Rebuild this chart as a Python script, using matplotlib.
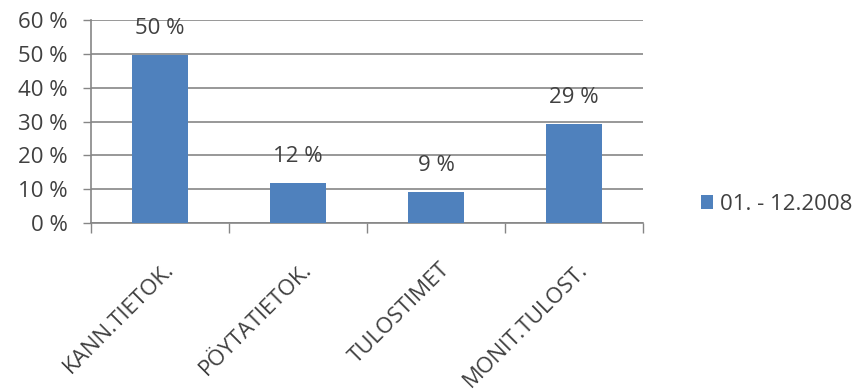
import numpy as np
import matplotlib.pyplot as plt
from matplotlib.transforms import ScaledTranslation

categories = ['KANN.TIETOK.', 'PÖYTATIETOK.', 'TULOSTIMET', 'MONIT.TULOST.']
shares = [49.6, 11.9, 9.3, 29.2]
valueLabels = ['50 %', '12 %', '9 %', '29 %']
yTicks = [0, 10, 20, 30, 40, 50, 60]
yTickLabels = ['0 %', '10 %', '20 %', '30 %', '40 %', '50 %', '60 %']
seriesName = '01. - 12.2008'

barColor = '#4F81BD'
textColor = '#404040'
gridColor = '#868686'
plt.rcParams['font.family'] = ['Open Sans', 'DejaVu Sans']
fontSize = 16

fig = plt.figure(figsize=(8.55, 3.9), dpi=100)
ax = fig.add_axes([91/855, 1 - 223/390, (643 - 91)/855, (223 - 20)/390])

x = np.arange(len(categories))
bars = ax.bar(x, shares, width=0.4, color=barColor, label=seriesName, zorder=3)

for xi, v, lab in zip(x, shares, valueLabels):
    ax.annotate(lab, (xi, v), xytext=(0, 19), textcoords='offset points',
                ha='center', va='center', fontsize=fontSize, color=textColor)

ax.set_xlim(-0.5, len(categories) - 0.5)
ax.set_ylim(0, 60)
ax.set_yticks(yTicks)
ax.set_yticklabels(yTickLabels, fontsize=fontSize, color=textColor)
ax.yaxis.grid(True, color=gridColor, linewidth=1.2, zorder=0)
ax.set_axisbelow(True)
ax.tick_params(axis='y', length=6, width=1, color=gridColor, pad=11)

# category boundaries as major ticks, labels on minor ticks
ax.set_xticks(np.arange(-0.5, len(categories), 1))
ax.set_xticklabels([])
ax.set_xticks(x, minor=True)
ax.set_xticklabels(categories, minor=True, rotation=45, ha='right', va='top',
                   rotation_mode='anchor', fontsize=fontSize, color=textColor)
ax.tick_params(axis='x', which='major', length=7, width=1, color=gridColor)
ax.tick_params(axis='x', which='minor', length=0, pad=0)
for lbl in ax.get_xticklabels(minor=True):
    lbl.set_transform(lbl.get_transform() + ScaledTranslation(0.03, -0.36, fig.dpi_scale_trans))

for side in ['top', 'right']:
    ax.spines[side].set_visible(False)
for side in ['left', 'bottom']:
    ax.spines[side].set_color(gridColor)
    ax.spines[side].set_linewidth(1.2)

fig.legend(handles=[bars], labels=[seriesName], loc='center left',
           bbox_to_anchor=(701/855, 1 - 204/390), frameon=False,
           fontsize=fontSize, labelcolor=textColor, handlelength=0.55,
           handleheight=0.6, handletextpad=0.3, borderpad=0, borderaxespad=0)

plt.savefig('out.png', dpi=100)
